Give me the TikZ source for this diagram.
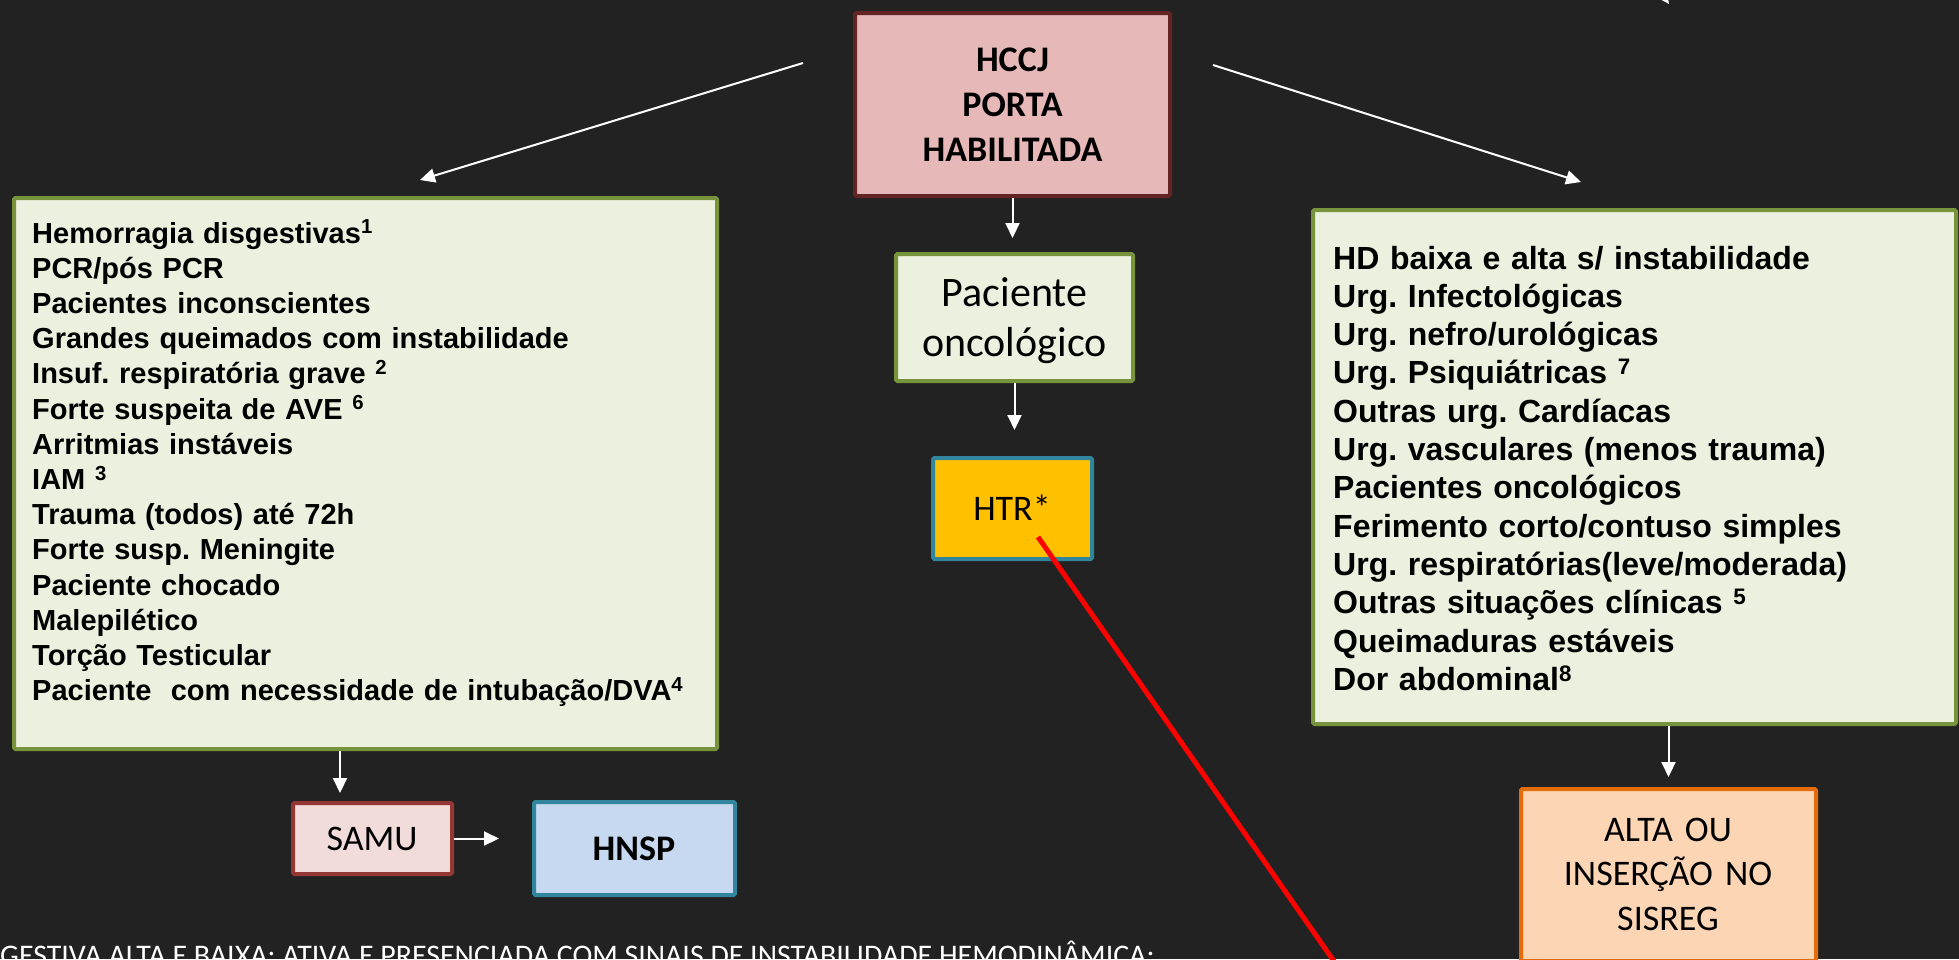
\documentclass[tikz,border=0pt]{standalone}
\usepackage{fontspec}
\setmainfont{Carlito}
\newfontfamily\arialf{Liberation Sans}
\usetikzlibrary{arrows.meta}
\frenchspacing
\definecolor{bg}{HTML}{222222}
\definecolor{hccjfill}{HTML}{E6B9B8}
\definecolor{hccjline}{HTML}{632523}
\definecolor{grfill}{HTML}{EBF1DE}
\definecolor{grline}{HTML}{77933C}
\definecolor{htrfill}{HTML}{FFC000}
\definecolor{tealline}{HTML}{31859C}
\definecolor{samufill}{HTML}{F2DCDB}
\definecolor{samuline}{HTML}{953735}
\definecolor{hnspfill}{HTML}{C6D9F1}
\definecolor{altafill}{HTML}{FCD5B5}
\definecolor{altaline}{HTML}{E46C0A}
\definecolor{redline}{HTML}{FF0000}
\begin{document}
\begin{tikzpicture}[x=1pt,y=-1pt,
  box/.style={draw, line width=4pt, rounded corners=1.5pt, inner sep=0pt},
  greenbox/.style={box, fill=grfill, draw=grline},
  txt/.style={inner sep=0pt, text=black, align=center, anchor=base},
  listtxt/.style={inner sep=0pt, text=black, align=left, anchor=base west},
  arr/.style={draw=white, line width=2pt, -{Triangle[length=15pt,width=14pt]}},
]
\path[use as bounding box] (0,0) rectangle (1959,959);
\fill[bg] (0,0) rectangle (1959,959);
\clip (0,0) rectangle (1959,959);

% boxes
\node[box, fill=hccjfill, draw=hccjline, minimum width=315pt, minimum height=183pt] (hccj) at (1012.5,104.5) {};
\node[txt, text width=300pt, font=\fontsize{36}{45}\selectfont\bfseries] (hccjt) at (1012.5,71.7) {HCCJ\\PORTA\\HABILITADA};

\node[greenbox, minimum width=237pt, minimum height=127pt] (pac) at (1014.5,317.5) {};
\node[txt, text width=230pt, font=\fontsize{42}{50}\selectfont] (pact) at (1014.5,306.7) {Paciente\\oncológico};

\node[box, fill=htrfill, draw=tealline, minimum width=159pt, minimum height=101pt] (htr) at (1012.5,508.5) {};
\node[txt, font=\fontsize{36}{44}\selectfont] (htrt) at (1012,520) {HTR*};

\node[greenbox, minimum width=703pt, minimum height=551pt] (left) at (365.5,473.5) {};
\node[listtxt, text width=680pt, font=\arialf\bfseries\fontsize{29}{35.2}\selectfont] (leftt) at (32,243) {Hemorragia disgestivas\textsuperscript{1}\\
PCR/pós PCR\\
Pacientes inconscientes\\
Grandes queimados com instabilidade\\
Insuf. respiratória grave \textsuperscript{2}\\
Forte suspeita de AVE \textsuperscript{6}\\
Arritmias instáveis\\
IAM \textsuperscript{3}\\
Trauma (todos) até 72h\\
Forte susp. Meningite\\
Paciente chocado\\
Malepilético\\
Torção Testicular\\
Paciente\ \ com necessidade de intubação/DVA\textsuperscript{4}};

\node[greenbox, minimum width=643pt, minimum height=514pt] (right) at (1634.5,467) {};
\node[listtxt, text width=620pt, font=\arialf\bfseries\fontsize{32}{38.3}\selectfont] (rightt) at (1333,269) {HD baixa e alta s/ instabilidade\\
Urg. Infectológicas\\
Urg. nefro/urológicas\\
Urg. Psiquiátricas \textsuperscript{7}\\
Outras urg. Cardíacas\\
Urg. vasculares (menos trauma)\\
Pacientes oncológicos\\
Ferimento corto/contuso simples\\
Urg. respiratórias(leve/moderada)\\
Outras situações clínicas \textsuperscript{5}\\
Queimaduras estáveis\\
Dor abdominal\textsuperscript{8}};

\node[box, fill=samufill, draw=samuline, minimum width=159pt, minimum height=71pt] (samu) at (372.5,838.5) {};
\node[txt, font=\fontsize{36}{44}\selectfont] (samut) at (372,850.7) {SAMU};

\node[box, fill=hnspfill, draw=tealline, minimum width=201pt, minimum height=93pt] (hnsp) at (634.5,848.5) {};
\node[txt, font=\fontsize{36}{44}\selectfont\bfseries] (hnspt) at (634,860) {HNSP};

\node[box, fill=altafill, draw=altaline, minimum width=295pt, minimum height=172pt] (alta) at (1668.5,875) {};
\node[txt, text width=290pt, font=\fontsize{36}{44.5}\selectfont] (altat) at (1668,841) {ALTA OU\\INSERÇÃO NO\\SISREG};

% footnote text (cut at bottom, as in the reference)
\node[anchor=base west, inner sep=0pt, text=white, font=\fontsize{29.9}{36}\selectfont] (foot) at (0,965.5) {GESTIVA ALTA E BAIXA: ATIVA E PRESENCIADA COM SINAIS DE INSTABILIDADE HEMODINÂMICA;};

% connectors
\coordinate (d1s) at (803,63);
\coordinate (d1e) at (420,180);
\coordinate (d2s) at (1213,65);
\coordinate (d2e) at (1581,182);
\draw[arr] (d1s) -- (d1e);
\draw[arr] (d2s) -- (d2e);
\draw[arr, shorten >=14pt] (hccj.south) -- (hccj.south |- pac.north);
\draw[arr, shorten >=26pt] (pac.south) -- (pac.south |- htr.north);
\coordinate (samux) at (340,0);
\draw[arr, shorten >=8pt] (left.south -| samux) -- (samu.north -| samux);
\draw[arr, shorten >=33pt] (samu.east) -- (samu.east -| hnsp.west);
\draw[arr, shorten >=10pt] (right.south -| alta.north) -- (alta.north);

\coordinate (rs) at (1038,537);
\coordinate (re) at (1361,1000);
\draw[redline, line width=5pt] (rs) -- (re);

\coordinate (ts) at (1630,-50);
\coordinate (te) at (1669,4);
\draw[arr] (ts) -- (te);
\end{tikzpicture}
\end{document}
